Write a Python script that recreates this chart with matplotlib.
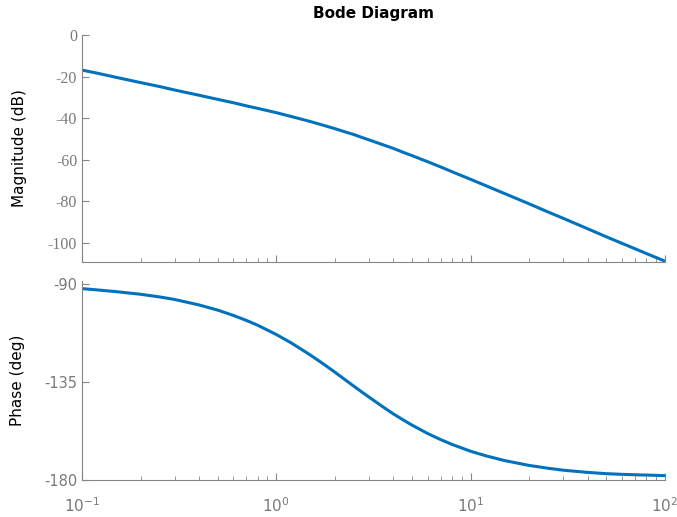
import numpy as np
import matplotlib
matplotlib.use("Agg")
import matplotlib.pyplot as plt
from matplotlib.ticker import LogLocator, NullFormatter

# === DATA ===
freq = [0.1, 0.12, 0.15, 0.2, 0.25, 0.3, 0.4, 0.5, 0.6, 0.7, 0.8, 1.0, 1.2, 1.5,
        1.75, 2.0, 2.25, 2.5, 2.75, 3.0, 3.5, 4.0, 4.5, 5.0, 6.0, 7.0, 8.0, 10.0,
        12.0, 15.0, 20.0, 25.0, 30.0, 40.0, 50.0, 60.0, 70.0, 85.0, 100.0]
mag_db = [-16.9, -18.4, -20.4, -22.9, -24.8, -26.5, -29.0, -31.0, -32.6, -34.1,
          -35.3, -37.4, -39.3, -41.7, -43.5, -45.1, -46.6, -47.9, -49.3, -50.5,
          -52.7, -54.6, -56.5, -58.1, -61.0, -63.5, -65.8, -69.5, -72.6, -76.4,
          -81.3, -85.2, -88.3, -93.3, -97.2, -100.3, -102.9, -106.2, -108.9]
phase_deg = [-92.0, -92.6, -93.4, -94.6, -95.8, -97.0, -99.5, -101.9, -104.3, -106.6,
             -108.8, -113.1, -117.1, -122.6, -126.7, -130.4, -133.8, -136.8, -139.5, -141.9,
             -146.1, -149.6, -152.4, -154.8, -158.6, -161.4, -163.6, -166.8, -168.9, -171.1,
             -173.3, -174.6, -175.5, -176.5, -177.1, -177.4, -177.6, -177.8, -178.0]

mag_ticks = [0, -20, -40, -60, -80, -100]
phase_ticks = [-90, -135, -180]

line_color = "#0072BD"
axis_gray = "#858585"
label_gray = "#7a7a7a"

fig = plt.figure(figsize=(6.77, 5.17), dpi=100)
ax1 = fig.add_axes([82 / 677, 1 - 262 / 517, 583 / 677, 227 / 517])
ax2 = fig.add_axes([82 / 677, 1 - 480 / 517, 583 / 677, 199 / 517])

for ax in (ax1, ax2):
    ax.set_xscale("log")
    ax.set_xlim(0.1, 100)
    for s in ("top", "right"):
        ax.spines[s].set_visible(False)
    for s in ("left", "bottom"):
        ax.spines[s].set_color(axis_gray)
        ax.spines[s].set_linewidth(0.8)
    ax.xaxis.set_major_locator(LogLocator(base=10, numticks=10))
    ax.xaxis.set_minor_locator(LogLocator(base=10, subs=np.arange(2, 10), numticks=10))
    ax.xaxis.set_minor_formatter(NullFormatter())
    ax.tick_params(which="both", direction="in", colors=axis_gray, labelcolor=label_gray)
    ax.tick_params(which="major", length=5, width=0.8)
    ax.tick_params(which="minor", length=3, width=0.6)

# magnitude
ax1.plot(freq, mag_db, color=line_color, linewidth=2.2, solid_capstyle="butt")
ax1.set_ylim(-109.3, 0)
ax1.set_yticks(mag_ticks)
ax1.set_yticklabels([str(t) for t in mag_ticks], family="Liberation Serif", fontsize=11.5)
ax1.tick_params(axis="x", labelbottom=False)
ax1.set_ylabel("Magnitude (dB)", fontsize=11, color="black")
ax1.yaxis.set_label_coords(-0.095, 0.5)
ax1.set_title("Bode Diagram", fontsize=11, fontweight="bold", pad=12)

# phase
ax2.plot(freq, phase_deg, color=line_color, linewidth=2.2, solid_capstyle="butt")
ax2.set_ylim(-180, -88.5)
ax2.set_yticks(phase_ticks)
ax2.set_yticklabels([str(t) for t in phase_ticks], fontsize=10.5)
ax2.tick_params(axis="x", labelsize=11, pad=12)
ax2.set_ylabel("Phase (deg)", fontsize=11, color="black")
ax2.yaxis.set_label_coords(-0.098, 0.5)

fig.savefig("out.png", dpi=100)
